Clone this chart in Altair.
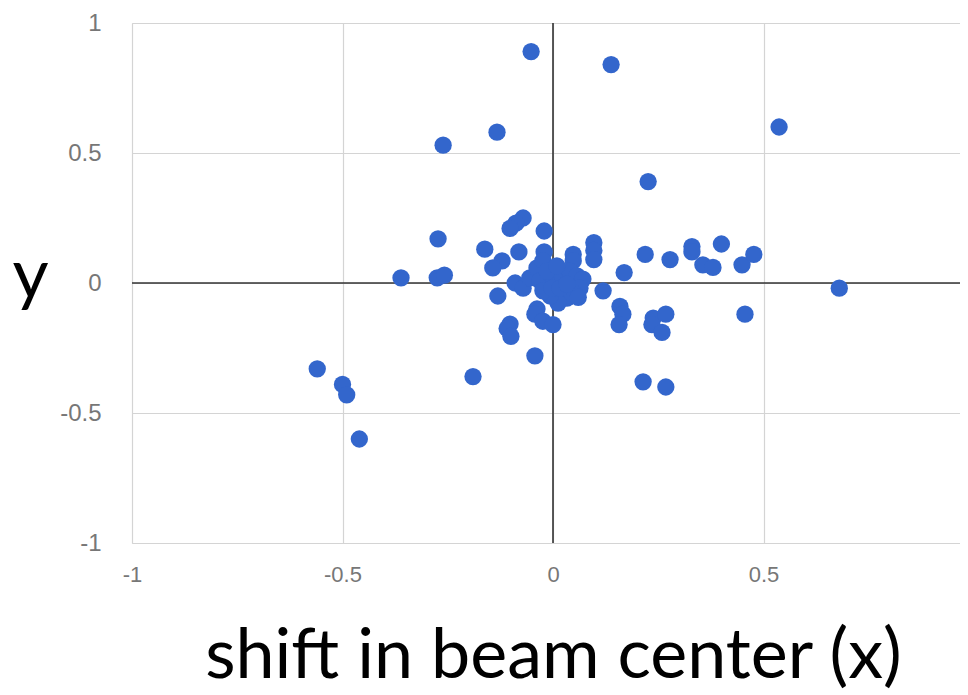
import altair as alt
import pandas as pd

x_vals = [-0.052, 0.138, 0.537, -0.133, -0.261, 0.226, -0.273, -0.361, -0.275, -0.258,
          -0.56, -0.50, -0.49, -0.46, -0.19, 0.68, 0.456, 0.214, 0.268,
          0.097, 0.097, 0.097, 0.219, 0.278, 0.33, 0.33, 0.40, 0.356, 0.38, 0.449, 0.477,
          0.169, 0.119, 0.159, 0.166, 0.157, 0.238, 0.268, 0.235, 0.259,
          -0.071, -0.088, -0.102, -0.021, -0.162, -0.081, -0.121, -0.143, -0.021, 0.048, 0.048,
          -0.131, -0.038, -0.043, -0.024, 0.0, -0.102, -0.109, -0.10, -0.043,
          -0.09, -0.071, -0.055, -0.038, -0.024, -0.031, -0.007, 0.009, 0.024, 0.04, 0.057,
          0.071, 0.064, 0.048, 0.033, 0.012, -0.007, -0.024, -0.002, 0.017, 0.033, -0.014,
          0.009, 0.06]
y_vals = [0.89, 0.84, 0.60, 0.58, 0.53, 0.39, 0.17, 0.02, 0.02, 0.03,
          -0.33, -0.39, -0.43, -0.60, -0.36, -0.02, -0.12, -0.38, -0.40,
          0.155, 0.125, 0.09, 0.11, 0.09, 0.14, 0.12, 0.15, 0.07, 0.06, 0.07, 0.11,
          0.04, -0.03, -0.09, -0.12, -0.16, -0.135, -0.12, -0.16, -0.19,
          0.25, 0.23, 0.21, 0.20, 0.13, 0.12, 0.085, 0.058, 0.12, 0.11, 0.085,
          -0.05, -0.10, -0.12, -0.147, -0.16, -0.158, -0.175, -0.205, -0.28,
          0.0, -0.02, 0.02, 0.058, 0.085, 0.008, 0.035, 0.008, 0.02, 0.046, 0.027,
          0.015, -0.02, -0.038, -0.058, -0.077, -0.05, -0.03, -0.02, -0.02, -0.004, 0.046,
          0.066, -0.055]

tick_values = [-1, -0.5, 0, 0.5, 1]
x_title = "shift in beam center (x)"
y_title = "y"

df = pd.DataFrame({"x": x_vals, "y": y_vals})
zero = pd.DataFrame({"z": [0]})

xscale = alt.Scale(domain=[-1, 1], range=[0, 842], nice=False, zero=False)
yscale = alt.Scale(domain=[-1, 1], nice=False, zero=False)

xaxis = alt.Axis(values=tick_values, grid=True, gridColor="#d4d4d4", gridWidth=1.2,
                 domain=False, ticks=False, labelFlush=False, labelOverlap=False,
                 labelExpr="'' + datum.value", labelFont="Liberation Sans",
                 labelFontSize=22, labelColor="#777777", labelPadding=21,
                 title=x_title, titleFont="Lato", titleFontSize=70, titleFontWeight="normal",
                 titleColor="#000000", titleX=421, titleY=134, titleAlign="center",
                 titleBaseline="alphabetic", titleAnchor="start")
yaxis = alt.Axis(values=tick_values, grid=True, gridColor="#d4d4d4", gridWidth=1.2,
                 domain=False, ticks=False, labelFlush=False, labelOverlap=False,
                 labelExpr="'' + datum.value", labelFont="Liberation Sans",
                 labelFontSize=24, labelColor="#777777", labelPadding=31,
                 title=y_title, titleFont="Lato", titleFontSize=70, titleFontWeight="normal",
                 titleColor="#000000", titleAngle=0, titleX=-102, titleY=274,
                 titleAlign="center", titleBaseline="alphabetic", titleAnchor="start")

points = alt.Chart(df).mark_circle(size=300, color="#3366CC", opacity=1).encode(
    x=alt.X("x:Q", scale=xscale, axis=xaxis),
    y=alt.Y("y:Q", scale=yscale, axis=yaxis),
)
vrule = alt.Chart(zero).mark_rule(color="#333333", strokeWidth=1.6).encode(
    x=alt.X("z:Q", scale=xscale, axis=xaxis))
hrule = alt.Chart(zero).mark_rule(color="#333333", strokeWidth=1.6).encode(
    y=alt.Y("z:Q", scale=yscale, axis=yaxis))

chart = alt.layer(vrule, hrule, points).properties(
    width=828, height=520,
    autosize=alt.AutoSizeParams(type="none"),
    padding={"left": 124, "top": 15, "right": 0, "bottom": 160},
).configure_view(stroke=None).configure(background="white")

chart.save("out.html", embed_options={"renderer": "svg", "actions": False})
